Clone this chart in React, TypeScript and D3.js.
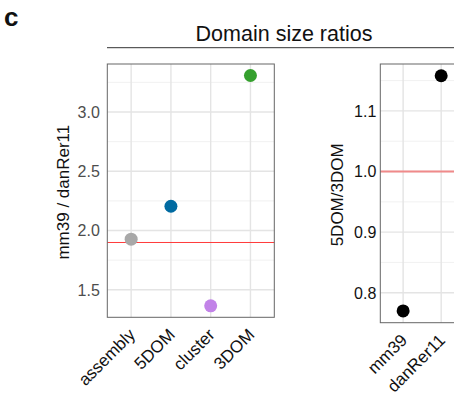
import React from "react";
import * as d3 from "d3";

// left panel: mm39 / danRer11 per feature
const ratioCats = ["assembly", "5DOM", "cluster", "3DOM"];
const ratioValues = [1.927, 2.205, 1.365, 3.308];
const ratioColors = ["#a8a8a8", "#006aa1", "#c283e8", "#35a02e"];
const ratioTicks = [1.5, 2.0, 2.5, 3.0];
const ratioRef = 1.899;

// right panel: 5DOM / 3DOM per genome
const domCats = ["mm39", "danRer11"];
const domValues = [0.77, 1.158];
const domTicks = [0.8, 0.9, 1.0, 1.1];
const domRef = 1.0;

const W = 454;
const H = 396;
const font = "'Liberation Sans', Arial, Helvetica, sans-serif";

// ggplot-style 5% expansion of the data range
const expand = (vals: number[]) => {
  const [lo, hi] = d3.extent(vals) as [number, number];
  const pad = (hi - lo) * 0.05;
  return [lo - pad, hi + pad];
};

type PanelProps = {
  cats: string[];
  values: number[];
  colors: string[];
  ticks: number[];
  ref: number;
  left: number;
  right: number;
  top: number;
  bottom: number;
  yLabel: string;
  yLabelX: number;
  tickGap: number;
  tickColor: string;
  refColor: string;
  refWidth: number;
};

const Panel = (p: PanelProps) => {
  const x = d3
    .scalePoint<string>()
    .domain(p.cats)
    .range([p.left, p.right])
    .padding(0.6);
  const y = d3.scaleLinear().domain(expand(p.values)).range([p.bottom, p.top]);
  const step = p.ticks[1] - p.ticks[0];
  const minor = d3
    .range(p.ticks[0] - step / 2, p.ticks[p.ticks.length - 1] + step, step)
    .filter(v => y(v) >= p.top && y(v) <= p.bottom);
  const fmt = d3.format(".1f");
  const midY = (p.top + p.bottom) / 2;

  return (
    <g>
      {minor.map(v => (
        <line key={"mi" + v} x1={p.left} x2={p.right} y1={y(v)} y2={y(v)} stroke="#ebebeb" strokeWidth={0.7} />
      ))}
      {p.ticks.map(v => (
        <line key={"ma" + v} x1={p.left} x2={p.right} y1={y(v)} y2={y(v)} stroke="#e4e4e4" strokeWidth={1.4} />
      ))}
      {p.cats.map(c => (
        <line key={"xg" + c} x1={x(c)} x2={x(c)} y1={p.top} y2={p.bottom} stroke="#e4e4e4" strokeWidth={1.4} />
      ))}
      <line x1={p.left} x2={p.right} y1={y(p.ref)} y2={y(p.ref)} stroke={p.refColor} strokeWidth={p.refWidth} />
      {p.cats.map((c, i) => (
        <circle key={"pt" + c} cx={x(c)} cy={y(p.values[i])} r={6.5} fill={p.colors[i]} />
      ))}
      <rect
        x={p.left}
        y={p.top}
        width={p.right - p.left}
        height={p.bottom - p.top}
        fill="none"
        stroke="#666"
        strokeWidth={1}
      />
      {p.ticks.map(v => (
        <text
          key={"yl" + v}
          x={p.left - p.tickGap}
          y={y(v)}
          dy="0.36em"
          textAnchor="end"
          fontSize={16}
          fill={p.tickColor}
        >
          {fmt(v)}
        </text>
      ))}
      {p.cats.map(c => (
        <text
          key={"xl" + c}
          transform={`translate(${(x(c) as number) - 3.5},${p.bottom + 10}) rotate(-45)`}
          dy="0.71em"
          textAnchor="end"
          fontSize={17}
          fill="#111"
        >
          {c}
        </text>
      ))}
      <text
        transform={`translate(${p.yLabelX},${midY + 1.5}) rotate(-90)`}
        textAnchor="middle"
        dy="0.35em"
        fontSize={17}
        fill="#111"
      >
        {p.yLabel}
      </text>
    </g>
  );
};

const App = () => {
  return (
    <svg
      width={W}
      height={H}
      style={{ position: "fixed", left: 0, top: 0, background: "#fff" }}
      fontFamily={font}
    >
      <text x={4} y={26} fontSize={26} fontWeight="bold" fill="#111">
        c
      </text>
      <text x={284} y={41} textAnchor="middle" fontSize={21.5} fill="#111">
        Domain size ratios
      </text>
      <line x1={107} x2={W} y1={47.7} y2={47.7} stroke="#333" strokeWidth={1} />
      <Panel
        cats={ratioCats}
        values={ratioValues}
        colors={ratioColors}
        ticks={ratioTicks}
        ref={ratioRef}
        left={107.3}
        right={274.3}
        top={64}
        bottom={317.3}
        yLabel="mm39 / danRer11"
        yLabelX={63}
        tickGap={7.5}
        tickColor="#4d4d4d"
        refColor="#ff3b3b"
        refWidth={1}
      />
      <Panel
        cats={domCats}
        values={domValues}
        colors={domCats.map(() => "#000")}
        ticks={domTicks}
        ref={domRef}
        left={380.3}
        right={464}
        top={64}
        bottom={322.7}
        yLabel="5DOM/3DOM"
        yLabelX={336.7}
        tickGap={4}
        tickColor="#111"
        refColor="#f08a8a"
        refWidth={2}
      />
    </svg>
  );
};

export default App;
